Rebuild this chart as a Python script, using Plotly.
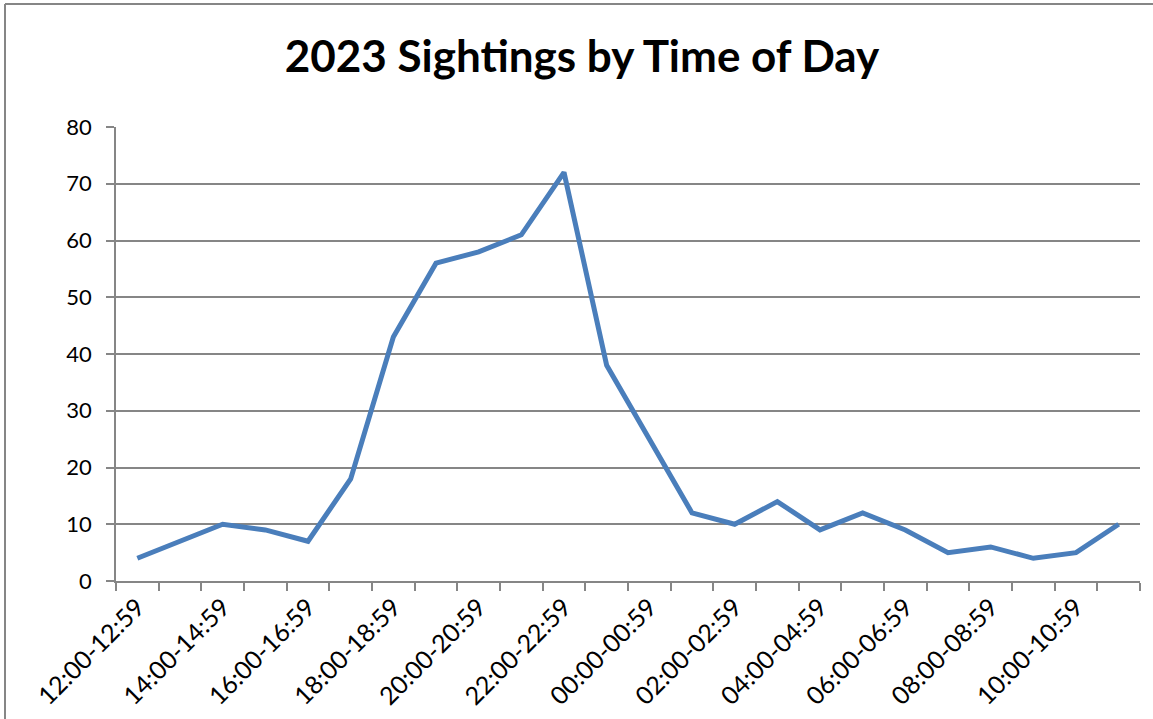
import plotly.graph_objects as go

categories = ["12:00-12:59", "13:00-13:59", "14:00-14:59", "15:00-15:59", "16:00-16:59",
              "17:00-17:59", "18:00-18:59", "19:00-19:59", "20:00-20:59", "21:00-21:59",
              "22:00-22:59", "23:00-23:59", "00:00-00:59", "01:00-01:59", "02:00-02:59",
              "03:00-03:59", "04:00-04:59", "05:00-05:59", "06:00-06:59", "07:00-07:59",
              "08:00-08:59", "09:00-09:59", "10:00-10:59", "11:00-11:59"]
sightings = [4, 7, 10, 9, 7, 18, 43, 56, 58, 61, 72, 38, 25, 12, 10, 14, 9, 12, 9, 5, 6, 4, 5, 10]
tick_labels = [c if i % 2 == 0 else "" for i, c in enumerate(categories)]
title_text = "2023 Sightings by Time of Day"

FONT = "Lato, Carlito, Calibri, sans-serif"
GRID = "#868686"

fig = go.Figure(go.Scatter(
    x=categories, y=sightings, mode="lines",
    line=dict(color="#4a7ebb", width=5),
    showlegend=False,
))

W, H = 1153, 719
L, R, T, B = 116, 13, 127, 138
pw, ph = W - L - R, H - T - B

def px_x(x):
    return (x - L) / pw

def px_y(y):
    return (H - B - y) / ph

fig.update_layout(
    width=W, height=H,
    margin=dict(l=L, r=R, t=T, b=B),
    paper_bgcolor="white", plot_bgcolor="white",
    font=dict(family=FONT, color="black", size=22),
    title=dict(text="<b>" + title_text + "</b>", x=582 / W, xanchor="center",
               y=1 - 57 / H, yanchor="middle", font=dict(size=44, family=FONT)),
    xaxis=dict(
        type="category", tickmode="array", tickvals=categories, ticktext=tick_labels,
        tickson="boundaries", ticks="outside", ticklen=8, tickcolor=GRID, tickwidth=1.5,
        tickangle=-45, showline=True, linecolor=GRID, linewidth=1.5, automargin=False,
        showgrid=False, range=[-0.5, 23.5], tickfont=dict(size=25),
    ),
    yaxis=dict(
        range=[0, 80], dtick=10, ticks="outside", ticklen=8, tickcolor=GRID, tickwidth=1.5,
        showline=True, linecolor=GRID, linewidth=1.5, showgrid=True, gridcolor=GRID,
        gridwidth=1.5, zeroline=False, tickfont=dict(size=22), ticklabelstandoff=10,
        automargin=False,
    ),
    shapes=[
        dict(type="line", xref="paper", yref="paper", x0=px_x(5), x1=px_x(5),
             y0=px_y(4), y1=px_y(719), line=dict(color=GRID, width=2)),
        dict(type="line", xref="paper", yref="paper", x0=px_x(5), x1=px_x(1153),
             y0=px_y(4), y1=px_y(4), line=dict(color=GRID, width=2)),
    ],
)

fig.write_html("out.html", config={"displayModeBar": False},
               post_script="document.body.style.margin='0';document.body.style.overflow='hidden';")
